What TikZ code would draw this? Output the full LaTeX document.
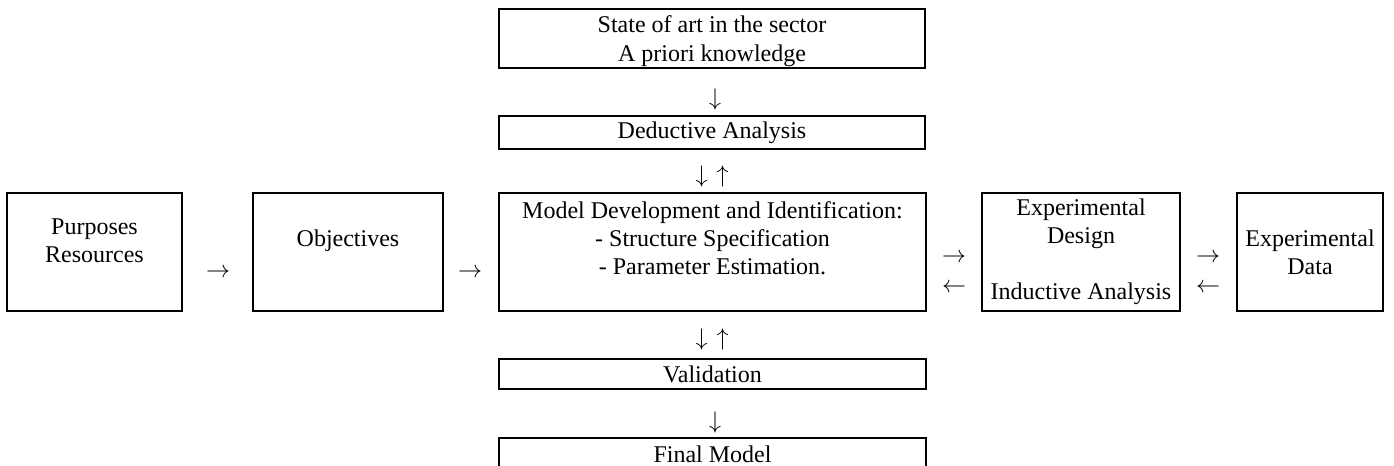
\documentclass[tikz,border=0pt]{standalone}
\usepackage{fontspec}
\setmainfont{Liberation Serif}
\usepackage{tikz}
\usetikzlibrary{calc}

\begin{document}
\begin{tikzpicture}[x=0.5pt,y=-0.5pt,
        box/.style={draw, line width=1pt, inner sep=0pt, align=center,
            font=\fontsize{12}{14}\selectfont},
        sign/.style={inner sep=0pt, font=\fontsize{12}{14}\selectfont}]
        \useasboundingbox (0,0) rectangle (1394,466);

        \node[box, minimum width=213pt, minimum height=29.5pt] (art) at (712,38.5)
            {\rule{0pt}{11.5pt}State of art in the sector\\[0.5pt]A priori knowledge};
        \node[box, minimum width=213pt, minimum height=16.5pt] (dedu) at (712,132.5)
            {Deductive Analysis};
        \node[box, minimum width=87.5pt, minimum height=59pt] (purp) at (94.5,252)
            {\rule{0pt}{10pt}Purposes\\Resources\\~};
        \node[box, minimum width=95pt, minimum height=59pt] (obj) at (348,252)
            {Objectives\\~};
        \node[box, minimum width=213.5pt, minimum height=59pt] (model) at (712.5,252)
            {Model Development and Identification:\\- Structure Specification\\- Parameter Estimation.\\~};
        \node[box, minimum width=99pt, minimum height=59pt] (expd) at (1081,252)
            {Experimental\\Design\\~\\Inductive Analysis};
        \node[box, minimum width=73pt, minimum height=59pt] (expdata) at (1310,252)
            {Experimental\\Data};
        \node[box, minimum width=213.5pt, minimum height=15pt] (valid) at (712.5,374)
            {Validation};
        \node[box, minimum width=213.5pt, minimum height=16.5pt, anchor=north] (final) at (712.5,437)
            {Final Model};

        \foreach \x/\y/\s/\n in {715/99/$\downarrow$/d1, 712/176/$\downarrow$\hspace{4.5pt}$\uparrow$/d2,
            218/273/$\rightarrow$/r1, 470/273/$\rightarrow$/r2,
            954/258/$\rightarrow$/r3, 954/288/$\leftarrow$/l3,
            1208/258/$\rightarrow$/r4, 1208/288/$\leftarrow$/l4,
            712/339/$\downarrow$\hspace{4.5pt}$\uparrow$/d3, 715/422/$\downarrow$/d4} {
            \node[sign] (\n) at (\x,\y) {\s};
        }
    \end{tikzpicture}
\end{document}
